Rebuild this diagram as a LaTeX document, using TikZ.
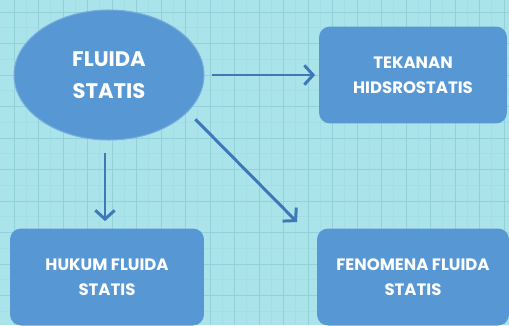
\documentclass[tikz,border=0pt]{standalone}
\usepackage{fontspec}
\newfontfamily\mapfont{Poppins}
\usepackage{tikz}
\usetikzlibrary{positioning}
\usetikzlibrary{shapes.geometric}
\usetikzlibrary{arrows.meta}
\definecolor{paper}{RGB}{170,227,233}
\definecolor{gridmajor}{RGB}{147,209,218}
\definecolor{gridminor}{RGB}{162,222,229}
\definecolor{bubble}{RGB}{86,151,212}
\definecolor{linkblue}{RGB}{62,120,184}
\tikzset{
    topic/.style={ellipse,fill=bubble,draw=bubble!80!white,line width=0.6pt,inner sep=0,minimum width=3.8cm,minimum height=2.6cm,
        text=white,align=center,font=\mapfont\bfseries\fontsize{12}{18.5}\selectfont},
    subtopic/.style={rectangle,rounded corners=0.22cm,fill=bubble,inner sep=0,minimum width=3.8cm,minimum height=1.94cm,
        text=white,align=center,font=\mapfont\bfseries\fontsize{9.4}{14.5}\selectfont},
    link/.style={draw=linkblue,line width=1.7pt,-{Straight Barb[length=5pt,width=11pt,line width=1.7pt]}}
}
\begin{document}
\begin{tikzpicture}[x=0.02cm,y=-0.02cm]
    \useasboundingbox (0,0) rectangle (509,325);
    \begin{scope}
    \clip (0,0) rectangle (509,325);
    \fill[paper] (0,0) rectangle (509,325);
    % grid
    \foreach \gx in {14,26.25,...,509} \draw[gridminor,line width=0.3pt] (\gx,0) -- (\gx,325);
    \foreach \gy in {12,27.75,...,325} \draw[gridminor,line width=0.3pt] (0,\gy) -- (509,\gy);
    \foreach \gx in {14,38.5,...,509} \draw[gridmajor,line width=0.5pt] (\gx,0) -- (\gx,325);
    \foreach \gy in {12,43.5,...,325} \draw[gridmajor,line width=0.5pt] (0,\gy) -- (509,\gy);

    \node[topic] (fluida) at (109,75) {FLUIDA\\STATIS};
    \node[subtopic,minimum width=3.76cm] (tekanan) at (413,75) {TEKANAN\\HIDSROSTATIS};
    \node[subtopic,minimum width=3.88cm] (hukum) at (107,277) {HUKUM FLUIDA\\STATIS};
    \node[subtopic,minimum width=3.84cm] (fenomena) at (413,277) {FENOMENA FLUIDA\\STATIS};
    \coordinate (fenomenatip) at (297,222);

    \draw[link,shorten <=4pt,shorten >=2pt] (fluida.east) -- (tekanan.west);
    \draw[link,shorten <=7pt,shorten >=4pt] ([xshift=-0.08cm]fluida.south) -- ([xshift=-0.08cm]fluida.south |- hukum.north);
    \draw[link,shorten <=6pt] (fluida.-25) -- (fenomenatip);
    \end{scope}
\end{tikzpicture}
\end{document}
